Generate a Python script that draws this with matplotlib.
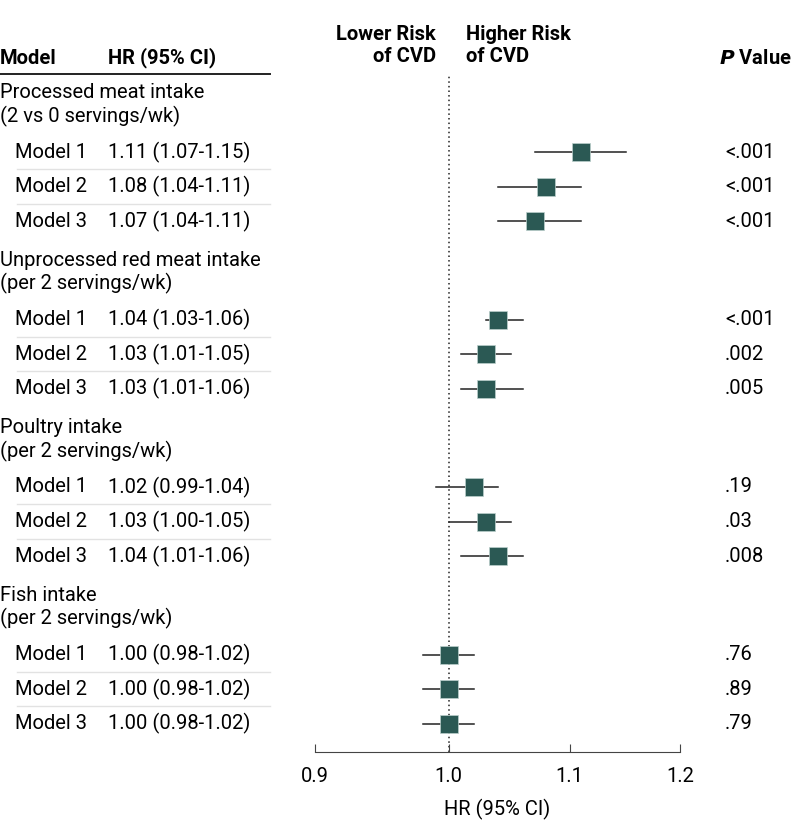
import numpy as np
import matplotlib.pyplot as plt
import matplotlib.transforms as mtransforms

plt.rcParams['font.family'] = ['Roboto', 'DejaVu Sans']

groups = ["Processed meat intake\n(2 vs 0 servings/wk)",
          "Unprocessed red meat intake\n(per 2 servings/wk)",
          "Poultry intake\n(per 2 servings/wk)",
          "Fish intake\n(per 2 servings/wk)"]
models = ["Model 1", "Model 2", "Model 3"]
hr = [[1.11, 1.08, 1.07],
      [1.04, 1.03, 1.03],
      [1.02, 1.03, 1.04],
      [1.00, 1.00, 1.00]]
lo = [[1.07, 1.04, 1.04],
      [1.03, 1.01, 1.01],
      [0.99, 1.00, 1.01],
      [0.98, 0.98, 0.98]]
hi = [[1.15, 1.11, 1.11],
      [1.06, 1.05, 1.06],
      [1.04, 1.05, 1.06],
      [1.02, 1.02, 1.02]]
pvals = [["<.001", "<.001", "<.001"],
         ["<.001", ".002", ".005"],
         [".19", ".03", ".008"],
         [".76", ".89", ".79"]]
xticks = [0.9, 1.0, 1.1, 1.2]

W, H = 798, 840
fig = plt.figure(figsize=(W / 100, H / 100), dpi=100)
# axes spans the plot region; y in pixel-like units (top = 0)
ax_bot, ax_top = 752, 75
ax = fig.add_axes([315 / W, 1 - ax_bot / H, (680 - 315) / W, (ax_bot - ax_top) / H])
ax.set_xscale('log')
ax.set_xlim(0.9, 1.2)
ax.set_ylim(ax_bot, ax_top)

tr = mtransforms.blended_transform_factory(fig.transFigure, ax.transData)
fs = 14.5
sq = '#2b5954'

first_hdr, grp_step, hdr_gap, row_step = 105, 167.5, 47, 34.6
for g, name in enumerate(groups):
    yh = first_hdr + g * grp_step
    ax.text(0 / W, yh, name, transform=tr, ha='left', va='center',
            fontsize=fs, linespacing=1.2)
    for m, mname in enumerate(models):
        y = yh + hdr_gap + m * row_step
        ax.plot([lo[g][m], hi[g][m]], [y, y], color='#222222', lw=1.1, zorder=2)
        ax.plot(hr[g][m], y, marker='s', ms=12.5, color=sq, mec='#bcd0cc',
                mew=0.5, zorder=3)
        ax.text(15 / W, y, mname, transform=tr, ha='left', va='center', fontsize=fs)
        ax.text(108 / W, y, f"{hr[g][m]:.2f} ({lo[g][m]:.2f}-{hi[g][m]:.2f})",
                transform=tr, ha='left', va='center', fontsize=fs)
        ax.text(725 / W, y, pvals[g][m], transform=tr, ha='left', va='center',
                fontsize=fs)
        if m < len(models) - 1:
            ys = y + row_step / 2
            fig.add_artist(plt.Line2D([17 / W, 270 / W], [ys, ys],
                                      transform=tr, color='#e2e2e2', lw=1))

ax.axvline(1.0, color='#222222', lw=1.1, ls=(0, (1, 2)), zorder=1)

for s in ['left', 'right', 'top']:
    ax.spines[s].set_visible(False)
ax.spines['bottom'].set_color('#444444')
ax.set_yticks([])
ax.set_xticks(xticks)
ax.set_xticklabels([f"{t:.1f}" for t in xticks], fontsize=fs)
ax.xaxis.set_minor_locator(plt.NullLocator())
ax.tick_params(axis='x', direction='in', length=6, color='#444444', pad=11)
ax.set_xlabel("HR (95% CI)", fontsize=fs, labelpad=9)

# header
fig.text(0 / W, 1 - 58 / H, "Model", fontsize=fs, fontweight='bold', va='center')
fig.text(108 / W, 1 - 58 / H, "HR (95% CI)", fontsize=fs, fontweight='bold', va='center')
fig.text(436 / W, 1 - 46 / H, "Lower Risk\nof CVD", fontsize=fs, fontweight='bold',
         va='center', ha='right', linespacing=1.2)
fig.text(466 / W, 1 - 46 / H, "Higher Risk\nof CVD", fontsize=fs, fontweight='bold',
         va='center', ha='left', linespacing=1.2)
fig.text(792 / W, 1 - 58 / H, r"$\bfit{P}$ Value", fontsize=fs, fontweight='bold',
         va='center', ha='right')
fig.add_artist(plt.Line2D([0, 270 / W], [1 - 74 / H, 1 - 74 / H],
                          transform=fig.transFigure, color='#222222', lw=1.4))

fig.savefig("out.png", dpi=100)
